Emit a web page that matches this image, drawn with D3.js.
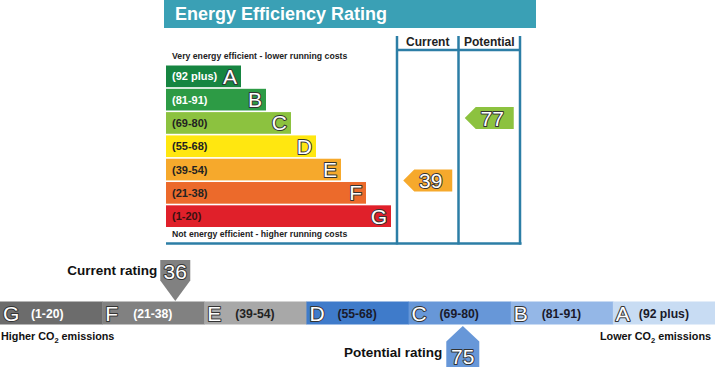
<!DOCTYPE html>
<html>
<head>
<meta charset="utf-8">
<script src="https://cdn.jsdelivr.net/npm/d3@7"></script>
<style>
  html, body { margin: 0; padding: 0; background: #fff; }
  svg { display: block; font-family: "Liberation Sans", Arial, sans-serif; }
</style>
</head>
<body>
<svg id="chart" width="715" height="367"></svg>
<script>
// ---------- data ----------
const bandLetters = ["A", "B", "C", "D", "E", "F", "G"];
const bandLabels  = ["(92 plus)", "(81-91)", "(69-80)", "(55-68)", "(39-54)", "(21-38)", "(1-20)"];
const bandMin     = [92, 81, 69, 55, 39, 21, 1];
const bandMax     = [100, 91, 80, 68, 54, 38, 20];
const columnNames = ["Current", "Potential"];
const energyRatings = [39, 77];          // current, potential
const co2Ratings    = [36, 75];          // current, potential
const co2Order      = ["G", "F", "E", "D", "C", "B", "A"];
const titleText = "Energy Efficiency Rating";
const topNote = "Very energy efficient - lower running costs";
const bottomNote = "Not energy efficient - higher running costs";
const co2Left = "Higher CO";
const co2Right = "Lower CO";

// ---------- styles ----------
const energyColors = {A:"#168541", B:"#2d9b45", C:"#8cc23f", D:"#ffe710", E:"#f6a92c", F:"#ec6a2b", G:"#e0202a"};
const energyLabelColors = {A:"#fff", B:"#fff", C:"#222", D:"#222", E:"#222", F:"#222", G:"#3a1010"};
const co2Colors = {G:"#6c6c6c", F:"#818181", E:"#a8a8a8", D:"#3f7bca", C:"#6797d8", B:"#94b7e7", A:"#c8dcf3"};
const co2LabelColors = {G:"#fff", F:"#fff", E:"#222", D:"#1a1a2a", C:"#1a1a2a", B:"#1a1a2a", A:"#1a1a2a"};
const teal = "#3aa0b5";
const lineBlue = "#2c7ea6";

const svg = d3.select("#chart");

function outlined(sel) {
  return sel.attr("fill", "#fff").attr("stroke", "#333").attr("stroke-width", 2)
    .style("paint-order", "stroke").attr("stroke-linejoin", "round");
}

// ---------- top: energy efficiency rating ----------
svg.append("rect").attr("x", 164).attr("y", 0).attr("width", 372).attr("height", 28).attr("fill", teal);
svg.append("text").attr("x", 175).attr("y", 20).attr("fill", "#fff")
  .attr("font-size", 18).attr("font-weight", "bold").text(titleText);

const y = d3.scaleBand().domain(bandLetters).range([65.5, 227]).paddingInner(0.07).paddingOuter(0);
const barEnd = d3.scaleLinear().domain([0, bandLetters.length - 1]).range([241, 391]);
const barX0 = 166;

svg.append("text").attr("x", 172).attr("y", 58.5).attr("font-size", 8.7).attr("font-weight", "bold")
  .attr("fill", "#222").text(topNote);
svg.append("text").attr("x", 172).attr("y", 237).attr("font-size", 8.7).attr("font-weight", "bold")
  .attr("fill", "#222").text(bottomNote);

const rows = svg.append("g").selectAll("g").data(bandLetters).join("g");
rows.append("rect")
  .attr("x", barX0).attr("y", d => y(d))
  .attr("width", (d, i) => barEnd(i) - barX0).attr("height", y.bandwidth())
  .attr("fill", d => energyColors[d]);
rows.append("text")
  .attr("x", barX0 + 6).attr("y", d => y(d) + y.bandwidth() / 2 + 4)
  .attr("font-size", 11).attr("font-weight", "bold")
  .attr("fill", d => energyLabelColors[d])
  .text((d, i) => bandLabels[i]);
rows.append("text")
  .attr("x", (d, i) => barEnd(i) - 4).attr("y", d => y(d) + y.bandwidth() / 2 + 7.5)
  .attr("text-anchor", "end").attr("font-size", 21)
  .call(outlined)
  .text(d => d);

// columns
const colX = d3.scaleBand().domain(columnNames).range([397, 520]);
const grid = svg.append("g").attr("stroke", lineBlue).attr("stroke-width", 2.5).attr("fill", "none");
colX.domain().concat(["end"]).forEach((c, i) => {
  const x = i < columnNames.length ? colX(c) : colX.range()[1];
  grid.append("line").attr("x1", x).attr("x2", x).attr("y1", 36).attr("y2", 244.5);
});
grid.append("line").attr("x1", 397).attr("x2", 520).attr("y1", 50).attr("y2", 50);
grid.append("line").attr("x1", 166).attr("x2", 521.5).attr("y1", 243.5).attr("y2", 243.5);

svg.append("g").selectAll("text").data(columnNames).join("text")
  .attr("x", d => colX(d) + colX.bandwidth() / 2).attr("y", 45.5)
  .attr("text-anchor", "middle").attr("font-size", 12).attr("font-weight", "bold").attr("fill", "#222")
  .text(d => d);

function bandIndex(v) {
  return bandMin.findIndex((m, i) => v >= m && v <= bandMax[i]);
}
function energyY(v) {
  const i = bandIndex(v);
  const L = bandLetters[i];
  return d3.scaleLinear().domain([bandMax[i], bandMin[i]]).range([y(L), y(L) + y.bandwidth()])(v);
}

const arrowW = 49, arrowH = 22, tipW = 11;
energyRatings.forEach((v, k) => {
  const cx = colX(columnNames[k]) + colX.bandwidth() / 2;
  const cy = energyY(v);
  const x0 = cx - arrowW / 2, x1 = cx + arrowW / 2;
  const col = energyColors[bandLetters[bandIndex(v)]];
  svg.append("path")
    .attr("d", `M${x0},${cy} L${x0 + tipW},${cy - arrowH / 2} L${x1},${cy - arrowH / 2} L${x1},${cy + arrowH / 2} L${x0 + tipW},${cy + arrowH / 2} Z`)
    .attr("fill", col);
  svg.append("text").attr("x", cx + 3).attr("y", cy + 7.5)
    .attr("text-anchor", "middle").attr("font-size", 21).call(outlined).text(v);
});

// ---------- bottom: CO2 rating ----------
const xs = d3.scaleBand().domain(co2Order).range([0, 715]);
const barTop = 301.5, barH = 23;

function co2X(v) {
  const i = bandIndex(v);
  const L = bandLetters[i];
  return d3.scaleLinear().domain([bandMin[i], bandMax[i]]).range([xs(L), xs(L) + xs.bandwidth()])(v);
}

const segs = svg.append("g").selectAll("g").data(co2Order).join("g");
segs.append("rect").attr("x", d => xs(d)).attr("y", barTop)
  .attr("width", xs.bandwidth() + 0.5).attr("height", barH).attr("fill", d => co2Colors[d]);
segs.append("text").attr("x", d => xs(d) + 3).attr("y", barTop + barH / 2 + 7.5)
  .attr("font-size", 21).call(outlined).text(d => d);
segs.append("text").attr("x", d => xs(d) + (d === "A" ? 26 : 31)).attr("y", barTop + barH / 2 + 5)
  .attr("font-size", 12.2).attr("font-weight", "bold").attr("fill", d => co2LabelColors[d])
  .text(d => bandLabels[bandLetters.indexOf(d)]);

// end notes with subscript
function co2Note(x, anchor, base) {
  const t = svg.append("text").attr("x", x).attr("y", 340).attr("text-anchor", anchor)
    .attr("font-size", 10.8).attr("font-weight", "bold").attr("fill", "#111");
  t.append("tspan").text(base);
  t.append("tspan").attr("font-size", 7.5).attr("dy", 2.5).text("2");
  t.append("tspan").attr("dy", -2.5).text(" emissions");
}
co2Note(1, "start", co2Left);
co2Note(711, "end", co2Right);

// current marker (points down onto bar)
{
  const v = co2Ratings[0];
  const s = co2X(v) - 2;
  const w = 30, cx = s - w / 2;
  const col = co2Colors[bandLetters[bandIndex(v)]];
  svg.append("path")
    .attr("d", `M${s - w},260 L${s},260 L${s},280.5 L${cx},${barTop - 0.5} L${s - w},280.5 Z`)
    .attr("fill", col);
  svg.append("text").attr("x", cx).attr("y", 278.5).attr("text-anchor", "middle")
    .attr("font-size", 21).call(outlined).text(v);
  svg.append("text").attr("x", s - w - 3).attr("y", 275.3).attr("text-anchor", "end")
    .attr("font-size", 13.5).attr("font-weight", "bold").attr("fill", "#111").text("Current rating");
}
// potential marker (points up onto bar)
{
  const v = co2Ratings[1];
  const s = co2X(v) - 1.5;
  const w = 33;
  const col = co2Colors[bandLetters[bandIndex(v)]];
  svg.append("path")
    .attr("d", `M${s - w / 2},341.5 L${s},${barTop + barH + 1.5} L${s + w / 2},341.5 L${s + w / 2},370 L${s - w / 2},370 Z`)
    .attr("fill", col);
  svg.append("text").attr("x", s).attr("y", 363.5).attr("text-anchor", "middle")
    .attr("font-size", 21).call(outlined).text(v);
  svg.append("text").attr("x", s - w / 2 - 4).attr("y", 357).attr("text-anchor", "end")
    .attr("font-size", 13.5).attr("font-weight", "bold").attr("fill", "#111").text("Potential rating");
}
</script>
</body>
</html>
